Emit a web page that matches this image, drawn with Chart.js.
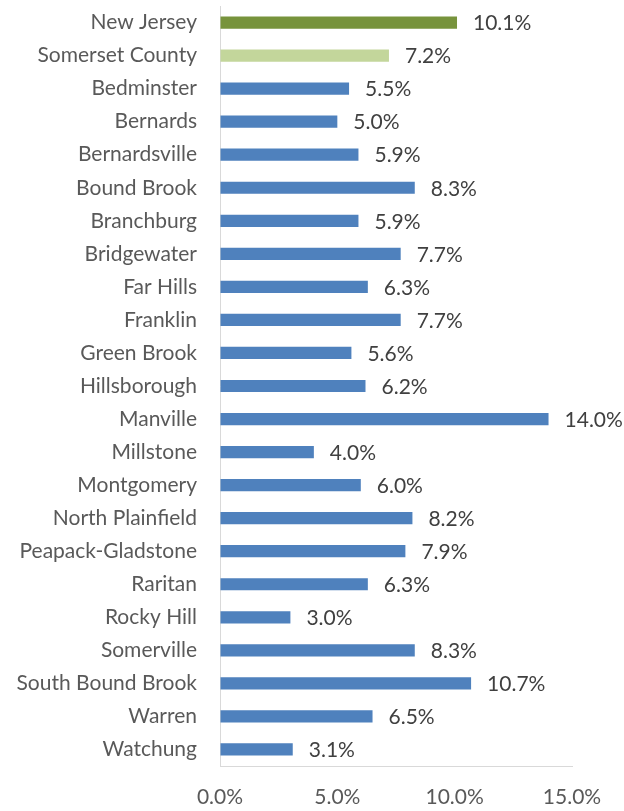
<!DOCTYPE html>
<html>
<head>
<meta charset="utf-8">
<script src="https://cdn.jsdelivr.net/npm/chart.js@4.4.1/dist/chart.umd.min.js"></script>
<style>
    html, body { margin: 0; padding: 0; background: #ffffff; }
    #wrap { width: 624px; height: 811px; }
</style>
</head>
<body>
<div id="wrap"><canvas id="chart" width="624" height="811"></canvas></div>
<script>
// Categories, top to bottom
var places = ["New Jersey", "Somerset County", "Bedminster", "Bernards", "Bernardsville",
    "Bound Brook", "Branchburg", "Bridgewater", "Far Hills", "Franklin", "Green Brook",
    "Hillsborough", "Manville", "Millstone", "Montgomery", "North Plainfield",
    "Peapack-Gladstone", "Raritan", "Rocky Hill", "Somerville", "South Bound Brook",
    "Warren", "Watchung"];

// Percent values
var rates = [10.1, 7.2, 5.5, 5.0, 5.9, 8.3, 5.9, 7.7, 6.3, 7.7, 5.6, 6.2, 14.0, 4.0,
    6.0, 8.2, 7.9, 6.3, 3.0, 8.3, 10.7, 6.5, 3.1];

// Axis ticks
var xTicks = [0, 5, 10, 15];

var fontFamily = "Lato, 'Liberation Sans', sans-serif";

// State bar, county bar, then towns
var barColors = places.map(function(p, i) {
    if (i == 0) return "#77933c";
    if (i == 1) return "#c3d69b";
    return "#4f81bd";
});

// Draw value labels to the right of each bar
var valueLabels = {
    id: 'valueLabels',
    afterDatasetsDraw: function(chart) {
        var ctx = chart.ctx;
        var meta = chart.getDatasetMeta(0);
        ctx.save();
        ctx.font = "21px " + fontFamily;
        ctx.fillStyle = "#404040";
        ctx.textAlign = "left";
        ctx.textBaseline = "middle";
        meta.data.forEach(function(bar, i) {
            ctx.fillText(rates[i].toFixed(1) + "%", bar.x + 16, bar.y + 1);
        });
        ctx.restore();
    }
};

var ctx = document.getElementById("chart").getContext("2d");

var chart = new Chart(ctx, {
    type: 'bar',
    data: {
        labels: places,
        datasets: [{
            data: rates,
            backgroundColor: barColors,
            barPercentage: 0.37,
            categoryPercentage: 1.0
        }]
    },
    options: {
        indexAxis: 'y',
        responsive: false,
        animation: false,
        layout: { padding: { left: 0, right: 52, top: 6, bottom: 0 } },
        plugins: {
            legend: { display: false },
            tooltip: { enabled: false }
        },
        scales: {
            x: {
                min: 0,
                max: 15,
                afterBuildTicks: function(scale) {
                    scale.ticks = xTicks.map(function(v) { return { value: v }; });
                },
                afterFit: function(scale) {
                    scale.height = 45;
                    scale.paddingLeft = 0;
                    scale.paddingRight = 0;
                },
                grid: { display: true, drawOnChartArea: false, drawTicks: false, color: "#d9d9d9" },
                border: { display: true, color: "#d9d9d9", width: 1 },
                ticks: {
                    padding: 19,
                    color: "#595959",
                    font: { family: fontFamily, size: 21 },
                    callback: function(v) { return Number(v).toFixed(1) + "%"; }
                }
            },
            y: {
                afterFit: function(scale) {
                    scale.width = 220;
                    scale.paddingTop = 0;
                    scale.paddingBottom = 0;
                },
                grid: { display: true, drawOnChartArea: false, drawTicks: false, color: "#d9d9d9" },
                border: { display: true, color: "#d9d9d9", width: 1 },
                ticks: {
                    padding: 23,
                    color: "#595959",
                    font: { family: fontFamily, size: 21 }
                }
            }
        }
    },
    plugins: [valueLabels]
});
</script>
</body>
</html>
